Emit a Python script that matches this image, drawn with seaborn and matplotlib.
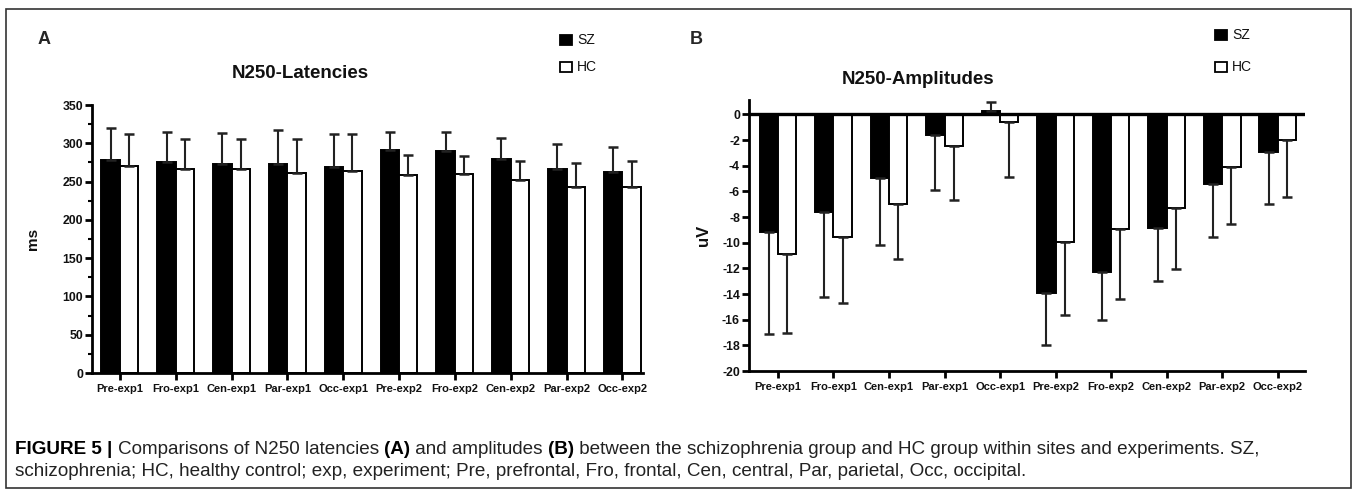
import numpy as np
import pandas as pd
import seaborn as sns
import matplotlib
matplotlib.use("Agg")
import matplotlib.pyplot as plt
from matplotlib import font_manager
from matplotlib.patches import Rectangle
from matplotlib.ticker import MultipleLocator

# ---------------- data ----------------
sites = ["Pre-exp1", "Fro-exp1", "Cen-exp1", "Par-exp1", "Occ-exp1",
         "Pre-exp2", "Fro-exp2", "Cen-exp2", "Par-exp2", "Occ-exp2"]
groups = ["SZ", "HC"]

lat_sz_mean = [278, 275.5, 273, 273, 268.5, 291, 289.5, 280, 266, 262]
lat_sz_sd = [42, 39.5, 40.5, 44.5, 43.5, 24, 25.5, 27, 32.5, 33]
lat_hc_mean = [270, 267, 266, 261.5, 264, 258.5, 260.5, 251.5, 243, 243.5]
lat_hc_sd = [42, 38, 40, 44.5, 48, 26, 23.5, 25, 31, 33]

amp_sz_mean = [-9.13, -7.63, -4.98, -1.58, 0.28, -13.93, -12.27, -8.87, -5.40, -2.96]
amp_sz_sd = [7.97, 6.57, 5.22, 4.28, 0.70, 4.07, 3.73, 4.13, 4.12, 4.00]
amp_hc_mean = [-10.9, -9.55, -6.98, -2.49, -0.55, -9.94, -8.95, -7.29, -4.10, -1.95]
amp_hc_sd = [6.10, 5.11, 4.28, 4.15, 4.30, 5.72, 5.42, 4.77, 4.44, 4.49]

lat_ticks = [0, 50, 100, 150, 200, 250, 300, 350]
amp_ticks = [0, -2, -4, -6, -8, -10, -12, -14, -16, -18, -20]

# ---------------- style ----------------
sns.set_theme(style="ticks")
names = {f.name for f in font_manager.fontManager.ttflist}
NARROW = "Liberation Sans Narrow" if "Liberation Sans Narrow" in names else "Liberation Sans"
SANS = "Liberation Sans"
plt.rcParams["font.family"] = [NARROW, "DejaVu Sans"]
plt.rcParams["axes.unicode_minus"] = False
XT_SIZE = 9.6 if NARROW != SANS else 8.0
YT_SIZE = 9.8 if NARROW != SANS else 8.8

W, H = 1357, 494
fig = plt.figure(figsize=(W / 100, H / 100), dpi=100)
fig.patch.set_facecolor("white")


def fx(px):
    return px / W


def fy(py):
    return 1 - py / H


palette = {"SZ": "black", "HC": "white"}


def make_df(sz, hc):
    return pd.DataFrame({
        "site": sites * 2,
        "group": ["SZ"] * len(sites) + ["HC"] * len(sites),
        "value": list(sz) + list(hc),
    })


def draw_panel(ax, sz_mean, sz_sd, hc_mean, hc_sd):
    df = make_df(sz_mean, hc_mean)
    sns.barplot(data=df, x="site", y="value", hue="group", order=sites,
                hue_order=groups, palette=palette, edgecolor="black",
                linewidth=1.4, width=0.66, gap=0, errorbar=None,
                legend=False, ax=ax, zorder=2)
    for cont, means, sds in zip(ax.containers, [sz_mean, hc_mean], [sz_sd, hc_sd]):
        xs = [b.get_x() + b.get_width() / 2 for b in cont]
        means = np.array(means)
        sds = np.array(sds)
        lower = np.where(means < 0, sds, 0)
        upper = np.where(means >= 0, sds, 0)
        ax.errorbar(xs, means, yerr=[lower, upper], fmt="none",
                    ecolor="#222222", elinewidth=1.5, capsize=3.8,
                    capthick=1.8, zorder=3)
    ax.set_xlabel("")
    for s in ["top", "right"]:
        ax.spines[s].set_visible(False)
    for s in ["left", "bottom"]:
        ax.spines[s].set_linewidth(2.0)
        ax.spines[s].set_color("black")
    ax.tick_params(axis="both", which="major", length=5, width=2,
                   color="black", direction="out", pad=1.5)
    ax.tick_params(axis="x", labelsize=XT_SIZE, pad=3)
    ax.tick_params(axis="y", labelsize=YT_SIZE)
    for lab in ax.get_xticklabels() + ax.get_yticklabels():
        lab.set_fontweight("bold")
        lab.set_color("#111111")
    ax.set_facecolor("white")


# ---------------- panel A ----------------
axA = fig.add_axes([fx(92), fy(373), fx(643) - fx(92), fy(105) - fy(373)])
draw_panel(axA, lat_sz_mean, lat_sz_sd, lat_hc_mean, lat_hc_sd)
axA.set_ylim(0, 350)
axA.set_yticks(lat_ticks)
axA.yaxis.set_minor_locator(MultipleLocator(25))
axA.tick_params(axis="y", which="minor", length=3, width=1.5, color="black")
axA.set_xlim(-0.5, 9.37)
axA.set_ylabel("ms", fontsize=11, fontweight="bold", labelpad=16, color="#111111")
for lab in axA.get_yticklabels():
    lab.set_fontweight("bold")
    lab.set_color("#111111")

# ---------------- panel B ----------------
axB = fig.add_axes([fx(749), fy(371), fx(1305) - fx(749), fy(100) - fy(371)])
draw_panel(axB, amp_sz_mean, amp_sz_sd, amp_hc_mean, amp_hc_sd)
axB.set_ylim(-20, 1.13)
axB.set_yticks(amp_ticks)
axB.set_yticklabels([str(t) for t in amp_ticks])
for lab in axB.get_yticklabels():
    lab.set_fontweight("bold")
    lab.set_color("#111111")
axB.set_xlim(-0.52, 9.49)
axB.axhline(0, color="black", lw=2.4, zorder=4)
axB.set_ylabel("uV", fontsize=12, fontweight="bold", labelpad=8, color="#111111")

# ---------------- titles, panel letters, legends ----------------
fig.text(fx(38), fy(40), "A", fontsize=13, fontweight="bold", family=SANS,
         va="center", ha="left")
fig.text(fx(690), fy(40), "B", fontsize=13, fontweight="bold", family=SANS,
         va="center", ha="left")
fig.text(fx(300), fy(73), "N250-Latencies", fontsize=13.5, fontweight="bold",
         va="center", ha="center", color="#111111")
fig.text(fx(918), fy(79), "N250-Amplitudes", fontsize=13.5, fontweight="bold",
         va="center", ha="center", color="#111111")


def legend_item(x, y, face, label):
    fig.patches.append(Rectangle((fx(x), fy(y + 5)), fx(12), 10 / H,
                                 transform=fig.transFigure, facecolor=face,
                                 edgecolor="black", lw=1.3))
    fig.text(fx(x + 17), fy(y), label, fontsize=10, va="center", ha="left",
             color="#111111")


legend_item(560, 40, "black", "SZ")
legend_item(560, 67, "white", "HC")
legend_item(1215, 35, "black", "SZ")
legend_item(1215, 67, "white", "HC")

# ---------------- figure border ----------------
fig.patches.append(Rectangle((fx(6), fy(488)), fx(1351) - fx(6), fy(9) - fy(488),
                             transform=fig.transFigure, fill=False,
                             edgecolor="#333333", lw=1.2))

# ---------------- caption ----------------
line1 = [("FIGURE 5 | ", "bold", "black"),
         ("Comparisons of N250 latencies ", "normal", "#222222"),
         ("(A)", "bold", "black"),
         (" and amplitudes ", "normal", "#222222"),
         ("(B)", "bold", "black"),
         (" between the schizophrenia group and HC group within sites and experiments. SZ,",
          "normal", "#222222")]
line2 = [("schizophrenia; HC, healthy control; exp, experiment; Pre, prefrontal, Fro, frontal, "
          "Cen, central, Par, parietal, Occ, occipital.", "normal", "#222222")]

renderer = fig.canvas.get_renderer()


def line_width(pieces, size):
    total = 0
    for txt, wt, col in pieces:
        t = fig.text(0, 0, txt, fontsize=size, fontweight=wt)
        total += t.get_window_extent(renderer).width
        t.remove()
    return total


base = 10.0
w1 = line_width(line1, base)
size = base * (1250 / w1)


def place_line(pieces, x0, ybase, size):
    x = x0
    for txt, wt, col in pieces:
        t = fig.text(fx(x), fy(ybase), txt, fontsize=size, fontweight=wt,
                     color=col, va="baseline", ha="left")
        x += t.get_window_extent(renderer).width


place_line(line1, 15, 454, size)
place_line(line2, 15, 476, size)

fig.savefig("out.png", dpi=100, facecolor="white")
